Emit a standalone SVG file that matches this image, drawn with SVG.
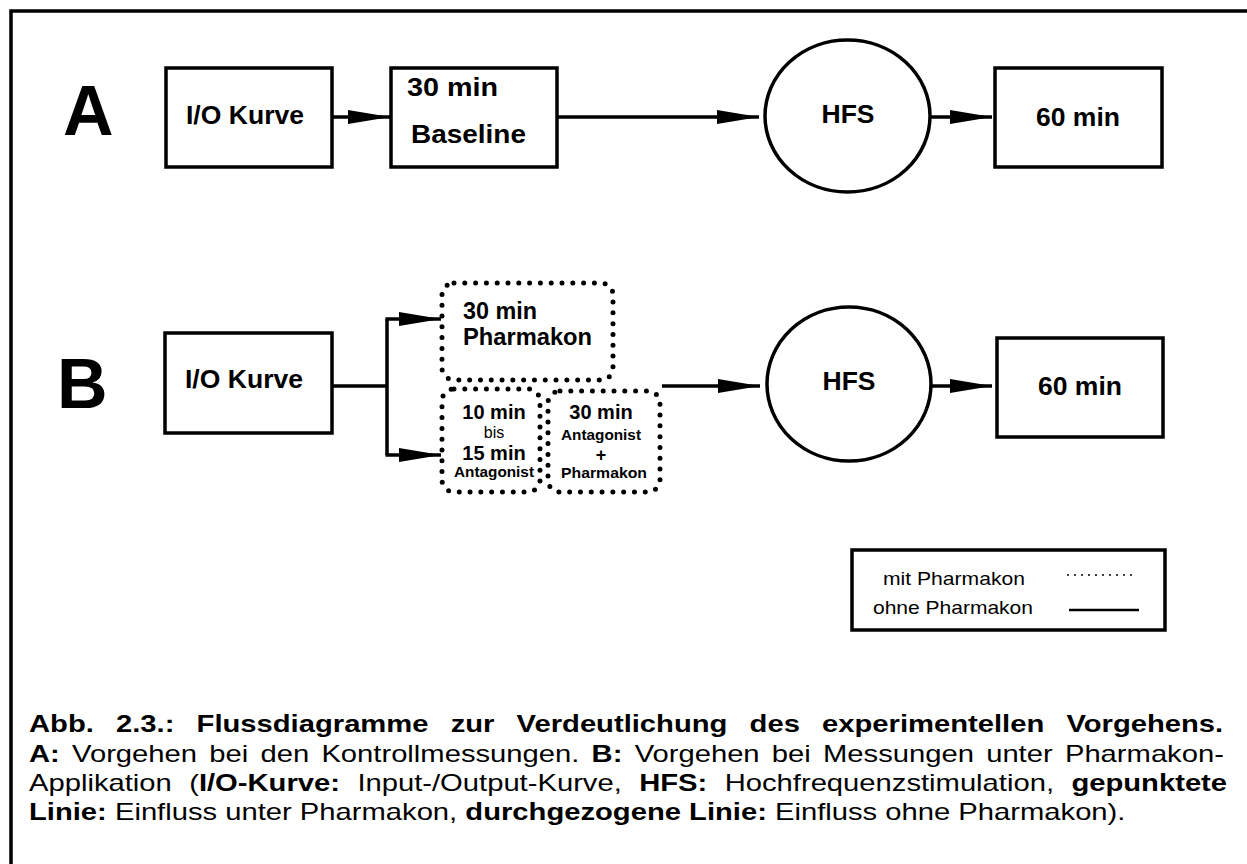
<svg xmlns="http://www.w3.org/2000/svg" width="1247" height="864" viewBox="0 0 1247 864">
<style>
  text { font-family: "Liberation Sans", Arial, sans-serif; fill: #000; }
  .b { font-weight: bold; }
  .box { fill: #fff; stroke: #000; stroke-width: 3.5; }
  .dot { fill: none; stroke: #000; stroke-width: 5; stroke-linecap: round; stroke-dasharray: 0 10.8; }
  .ln { fill: none; stroke: #000; stroke-width: 3.5; }
  .arr { fill: none; stroke: #000; stroke-width: 3.5; marker-end: url(#ah); }
  .lbl { font-weight: bold; font-size: 26.5px; }
  .cap { font-size: 23px; }
</style>
<defs>
  <marker id="ah" markerUnits="userSpaceOnUse" markerWidth="44" markerHeight="16" refX="42" refY="7" orient="auto">
    <path d="M0,0 L42,7 L0,14 Z" fill="#000"/>
  </marker>
</defs>
<rect width="1247" height="864" fill="#fff"/>
<path d="M11,864 V11 H1247" fill="none" stroke="#000" stroke-width="3.5"/>

<text x="63" y="135" class="b" font-size="70">A</text>
<text x="57" y="408" class="b" font-size="70">B</text>

<g id="connectors">
  <line class="arr" x1="332" y1="117" x2="390" y2="117"/>
  <line class="arr" x1="557" y1="117" x2="759" y2="117"/>
  <line class="arr" x1="930" y1="117" x2="992" y2="117"/>
  <path class="ln" d="M332,386 H387 M387,319 V455"/>
  <line class="arr" x1="385.5" y1="319" x2="441" y2="319"/>
  <line class="arr" x1="385.5" y1="455" x2="441" y2="455"/>
  <line class="arr" x1="662" y1="386" x2="760" y2="386"/>
  <line class="arr" x1="931" y1="386" x2="992" y2="386"/>
</g>

<g id="a-io">
  <rect class="box" x="166" y="68" width="166" height="99"/>
  <text class="lbl" x="186" y="124" textLength="118" lengthAdjust="spacingAndGlyphs">I/O Kurve</text>
</g>
<g id="a-baseline">
  <rect class="box" x="391" y="68" width="166" height="99"/>
  <text class="lbl" x="407" y="96" font-size="27" textLength="91" lengthAdjust="spacingAndGlyphs">30 min</text>
  <text class="lbl" x="411" y="143" font-size="27" textLength="115" lengthAdjust="spacingAndGlyphs">Baseline</text>
</g>
<g id="a-hfs">
  <ellipse class="box" cx="847.5" cy="116" rx="82.5" ry="76"/>
  <text class="lbl" x="848" y="123" text-anchor="middle">HFS</text>
</g>
<g id="a-60">
  <rect class="box" x="995" y="68" width="167" height="99"/>
  <text class="lbl" x="1078" y="126" text-anchor="middle">60 min</text>
</g>

<g id="b-io">
  <rect class="box" x="165" y="333" width="167" height="100"/>
  <text class="lbl" x="185" y="388" textLength="118" lengthAdjust="spacingAndGlyphs">I/O Kurve</text>
</g>
<g id="b-pharmakon">
  <rect class="dot" x="442" y="283" width="171" height="97" rx="12"/>
  <text class="b" x="463" y="319" font-size="23" textLength="74" lengthAdjust="spacingAndGlyphs">30 min</text>
  <text class="b" x="463" y="345" font-size="23" textLength="129" lengthAdjust="spacingAndGlyphs">Pharmakon</text>
</g>
<g id="b-antagonist">
  <rect class="dot" x="442" y="389" width="98" height="103" rx="12"/>
  <text class="b" x="494" y="419" font-size="20" text-anchor="middle">10 min</text>
  <text x="494" y="438" font-size="16" text-anchor="middle">bis</text>
  <text class="b" x="494" y="460" font-size="20" text-anchor="middle">15 min</text>
  <text class="b" x="494" y="477" font-size="15" text-anchor="middle" textLength="80" lengthAdjust="spacingAndGlyphs">Antagonist</text>
</g>
<g id="b-antagonist-pharmakon">
  <rect class="dot" x="548" y="391" width="112" height="101" rx="12"/>
  <text class="b" x="601" y="419" font-size="20" text-anchor="middle">30 min</text>
  <text class="b" x="601" y="440" font-size="15" text-anchor="middle" textLength="80" lengthAdjust="spacingAndGlyphs">Antagonist</text>
  <text class="b" x="601" y="461" font-size="18" text-anchor="middle">+</text>
  <text class="b" x="604" y="478" font-size="15.5" text-anchor="middle" textLength="86" lengthAdjust="spacingAndGlyphs">Pharmakon</text>
</g>
<g id="b-hfs">
  <ellipse class="box" cx="849" cy="384" rx="82" ry="77"/>
  <text class="lbl" x="849" y="390" text-anchor="middle">HFS</text>
</g>
<g id="b-60">
  <rect class="box" x="997" y="338" width="166" height="99"/>
  <text class="lbl" x="1080" y="395" text-anchor="middle">60 min</text>
</g>

<g id="legend">
  <rect x="852" y="550" width="313" height="80" fill="#fff" stroke="#000" stroke-width="3.5"/>
  <text x="883" y="585" font-size="19" fill="#111" textLength="142" lengthAdjust="spacingAndGlyphs">mit Pharmakon</text>
  <text x="873" y="614" font-size="19" fill="#111" textLength="160" lengthAdjust="spacingAndGlyphs">ohne Pharmakon</text>
  <line x1="1068" y1="575" x2="1137" y2="575" stroke="#000" stroke-width="2" stroke-linecap="round" stroke-dasharray="0 7"/>
  <line x1="1069" y1="610" x2="1139" y2="610" stroke="#000" stroke-width="2.5"/>
</g>

<g id="caption" transform="translate(29 0) scale(1.27 1)">
  <text class="cap b" x="0" y="732" word-spacing="11.07">Abb. 2.3.: Flussdiagramme zur Verdeutlichung des experimentellen Vorgehens.</text>
  <text class="cap" x="0" y="762" word-spacing="3.26"><tspan class="b">A:</tspan> Vorgehen bei den Kontrollmessungen. <tspan class="b">B:</tspan> Vorgehen bei Messungen unter Pharmakon-</text>
  <text class="cap" x="0" y="791" word-spacing="7.32">Applikation (<tspan class="b">I/O-Kurve:</tspan> Input-/Output-Kurve, <tspan class="b">HFS:</tspan> Hochfrequenzstimulation, <tspan class="b">gepunktete</tspan></text>
  <text class="cap" x="0" y="820"><tspan class="b">Linie:</tspan> Einfluss unter Pharmakon, <tspan class="b">durchgezogene Linie:</tspan> Einfluss ohne Pharmakon).</text>
</g>
</svg>
